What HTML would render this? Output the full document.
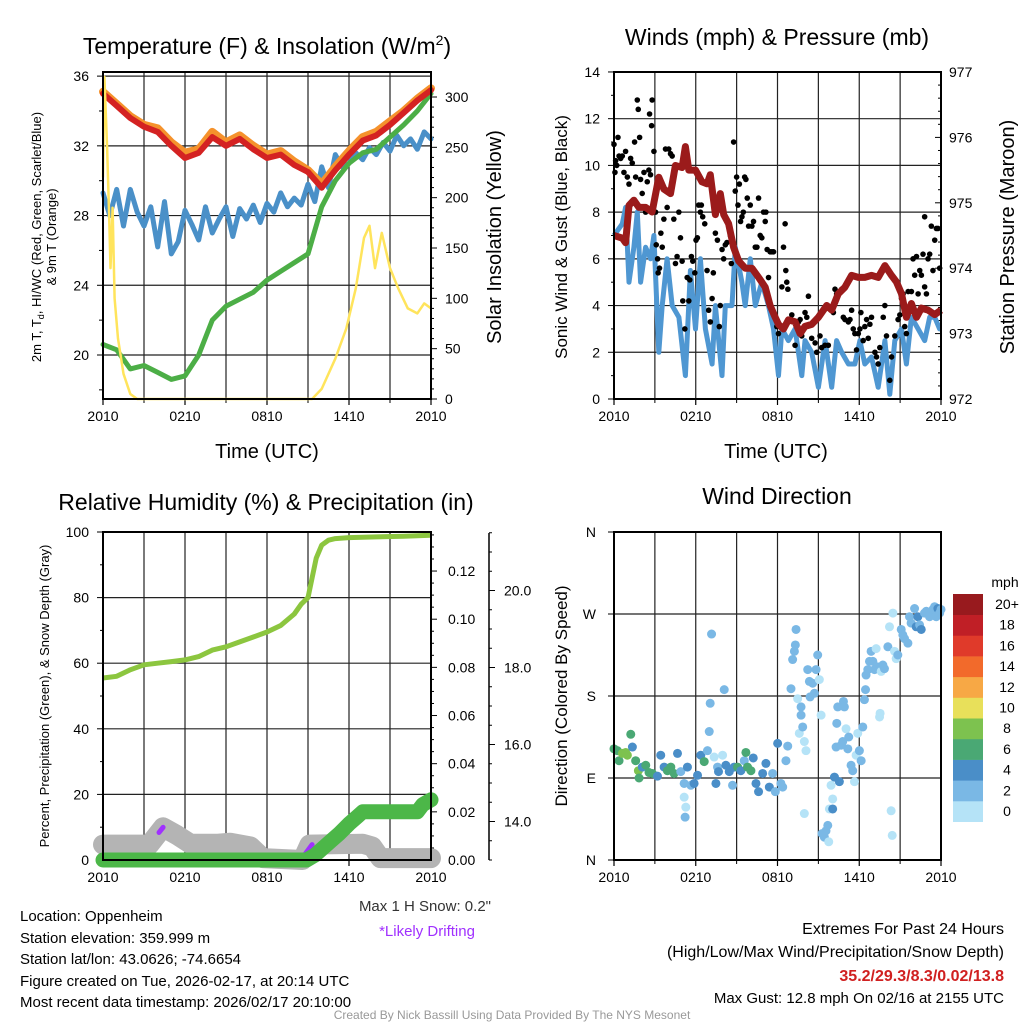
<!DOCTYPE html>
<html><head><meta charset="utf-8">
<style>
html,body{margin:0;padding:0;background:#fff;}
body{width:1024px;height:1024px;overflow:hidden;font-family:"Liberation Sans",sans-serif;}
svg text{font-family:"Liberation Sans",sans-serif;}
</style></head>
<body>
<svg id="c" width="1024" height="1024" viewBox="0 0 1024 1024" xmlns="http://www.w3.org/2000/svg">
<text x="267" y="54" font-size="23" text-anchor="middle">Temperature (F) &amp; Insolation (W/m<tspan font-size="14" dy="-9">2</tspan><tspan dy="9">)</tspan></text>
<text x="777" y="45" font-size="23" text-anchor="middle">Winds (mph) &amp; Pressure (mb)</text>
<text x="266" y="510" font-size="23" text-anchor="middle">Relative Humidity (%) &amp; Precipitation (in)</text>
<text x="777" y="504" font-size="23" text-anchor="middle">Wind Direction</text>
<text x="267" y="458" font-size="20" text-anchor="middle">Time (UTC)</text>
<text x="776" y="458" font-size="20" text-anchor="middle">Time (UTC)</text>
<text transform="translate(41,237) rotate(-90)" font-size="13" text-anchor="middle">2m T, T<tspan font-size="9" dy="3">d</tspan><tspan dy="-3">, HI/WC (Red, Green, Scarlet/Blue)</tspan></text>
<text transform="translate(56,237) rotate(-90)" font-size="13" text-anchor="middle">&amp; 9m T (Orange)</text>
<text transform="translate(501,237) rotate(-90)" font-size="20" text-anchor="middle">Solar Insolation (Yellow)</text>
<text transform="translate(567,237) rotate(-90)" font-size="17" text-anchor="middle">Sonic Wind &amp; Gust (Blue, Black)</text>
<text transform="translate(1014,237) rotate(-90)" font-size="20" text-anchor="middle">Station Pressure (Maroon)</text>
<text transform="translate(49,696) rotate(-90)" font-size="13" text-anchor="middle">Percent, Precipitation (Green), &amp; Snow Depth (Gray)</text>
<text transform="translate(567,696) rotate(-90)" font-size="17" text-anchor="middle">Direction (Colored By Speed)</text>
<g font-size="15">
<text x="20" y="921">Location: Oppenheim</text>
<text x="20" y="943">Station elevation: 359.999 m</text>
<text x="20" y="964">Station lat/lon: 43.0626; -74.6654</text>
<text x="20" y="986">Figure created on Tue, 2026-02-17, at 20:14 UTC</text>
<text x="20" y="1007">Most recent data timestamp: 2026/02/17 20:10:00</text>
</g>
<text x="491" y="911" font-size="15" text-anchor="end" fill="#333">Max 1 H Snow: 0.2"</text>
<text x="427" y="936" font-size="15" text-anchor="middle" fill="#a030ff">*Likely Drifting</text>
<text x="1004" y="934" font-size="16" text-anchor="end">Extremes For Past 24 Hours</text>
<text x="1004" y="957" font-size="16" text-anchor="end">(High/Low/Max Wind/Precipitation/Snow Depth)</text>
<text x="1004" y="981" font-size="16" font-weight="bold" text-anchor="end" fill="#d02020">35.2/29.3/8.3/0.02/13.8</text>
<text x="1004" y="1003" font-size="15" text-anchor="end">Max Gust: 12.8 mph On 02/16 at 2155 UTC</text>
<text x="512" y="1019" font-size="12" text-anchor="middle" fill="#999">Created By Nick Bassill Using Data Provided By The NYS Mesonet</text>
</svg>
<script>
// ---------- data ----------
const timeTickLabels = ["2010","0210","0810","1410","2010"];
const timeTickHours = [0,6,12,18,24];
const tempTicks = [20,24,28,32,36];
const insolTicks = [0,50,100,150,200,250,300];
const hourly = [0,1,2,3,4,5,6,7,8,9,10,11,12,13,14,15,16,17,18,19,20,21,22,23,24];
const temp2m = [35.0,34.3,33.6,33.1,32.8,32.0,31.3,31.6,32.5,32.0,32.4,31.8,31.3,31.5,30.9,30.5,29.6,30.6,31.5,32.3,32.6,33.2,33.9,34.6,35.2];
const temp9m = [35.1,34.4,33.7,33.2,33.0,32.2,31.6,31.8,32.8,32.2,32.6,32.0,31.5,31.7,31.1,30.6,29.8,30.8,31.7,32.5,32.8,33.4,34.0,34.7,35.3];
const dewpoint = [20.6,20.3,19.2,19.4,19.0,18.6,18.8,20.0,22.0,22.8,23.2,23.6,24.3,24.8,25.3,25.8,28.5,30.0,31.0,31.6,31.8,32.5,33.2,34.0,35.0];
const halfHours = [0,0.5,1,1.5,2,2.5,3,3.5,4,4.5,5,5.5,6,6.5,7,7.5,8,8.5,9,9.5,10,10.5,11,11.5,12,12.5,13,13.5,14,14.5,15,15.5,16,16.5,17,17.5,18,18.5,19,19.5,20,20.5,21,21.5,22,22.5,23,23.5,24];
const windChill = [29.3,28.0,29.5,27.4,29.5,28.2,27.4,28.5,26.2,28.8,25.8,26.5,28.3,27.5,26.6,28.5,27.0,27.8,28.5,26.8,28.4,27.8,28.6,27.6,28.7,28.2,29.3,28.5,29.0,28.6,29.8,28.8,30.8,29.6,31.5,30.8,31.0,31.6,31.2,31.9,31.5,32.2,31.7,32.6,32.0,32.4,31.8,32.8,32.4];
const insolHours = [0,0.1,0.3,0.45,0.55,0.7,0.85,1.1,1.5,2.0,2.5,15.3,16,17,17.8,18.5,19.1,19.5,19.9,20.4,21,21.6,22.3,23,23.5,24];
const insolVals = [220,320,250,180,130,190,100,60,25,5,0,0,10,40,70,110,160,172,130,165,130,110,90,85,95,90];

const windTicks = [0,2,4,6,8,10,12,14];
const pressTicks = [972,973,974,975,976,977];
const windHours = [0,0.61,0.85,1.1,1.46,1.71,1.95,2.32,2.68,2.93,3.29,3.54,3.9,4.27,4.76,5.24,5.61,5.98,6.34,6.71,7.2,7.44,7.93,8.17,8.66,8.9,9.39,9.63,10,10.37,10.85,11.34,11.71,12.07,12.32,12.8,13.29,13.78,14.02,14.51,15,15.49,15.98,16.34,16.71,17.2,17.68,18.05,18.41,18.9,19.39,19.88,20.24,20.61,21.1,21.46,21.83,22.32,22.8,23.17,23.54,23.9,24];
const windSpeed = [7,7.5,8.2,5,6.5,8,5,6.5,6,7,2,4,6,4,3.5,1,5.5,3,6,3,1.5,4,1,4,4,6.5,5,4,6,4,5,4,3,1,3,2.5,3,1,2.5,2,0.5,2.5,0.5,2.5,2,1.5,1.5,2.5,1.5,1.8,0.5,2.5,0.2,2.5,3,1.5,3.5,3,2.5,3.5,3.5,3,3];
const pressHours = [0,0.61,0.85,1.1,1.46,1.83,2.32,2.8,3.29,3.66,4.15,4.51,5,5.24,5.49,5.98,6.46,6.83,7.07,7.44,7.8,8.05,8.41,8.78,9.15,9.63,10.12,10.61,11.1,11.46,11.83,12.07,12.44,12.8,13.29,13.66,14.02,14.51,15,15.61,15.98,16.46,16.95,17.44,17.93,18.41,18.9,19.39,19.88,20.37,20.73,21.1,21.46,21.83,22.2,22.56,23.05,23.54,24];
const pressure = [974.50,974.46,974.39,974.96,975.04,974.93,974.93,974.86,975.39,975.21,975.14,975.57,975.54,975.86,975.50,975.50,975.32,975.29,975.43,974.82,975.14,974.82,974.68,974.32,974.11,974.0,974.0,973.86,973.71,973.43,973.25,973.14,973.07,973.21,973.18,973.0,973.11,973.14,973.25,973.43,973.36,973.61,973.71,973.89,973.86,973.86,973.89,973.86,974.04,973.89,973.79,973.61,973.25,973.46,973.25,973.39,973.36,973.29,973.36];
const gustHours = [0,0.07,0.12,0.2,0.29,0.37,0.49,0.61,0.73,0.85,0.98,1.1,1.22,1.34,1.51,1.59,1.71,1.78,1.88,1.95,2.07,2.2,2.32,2.44,2.56,2.61,2.68,2.76,2.8,2.93,3.05,3.1,3.2,3.24,3.34,3.44,3.54,3.66,3.78,3.9,4.02,4.15,4.27,4.39,4.51,4.63,4.76,4.88,5,5.05,5.2,5.37,5.49,5.56,5.68,5.78,5.93,6.02,6.12,6.22,6.34,6.41,6.51,6.66,6.83,6.95,7.07,7.2,7.29,7.44,7.59,7.73,7.8,7.93,8.05,8.17,8.29,8.54,8.61,8.78,8.9,9,9.1,9.2,9.29,9.39,9.49,9.59,9.68,9.78,9.88,10,10.12,10.24,10.37,10.49,10.61,10.73,10.85,10.98,11.1,11.15,11.24,11.34,11.46,11.59,11.71,11.83,11.95,12.07,12.32,12.44,12.56,12.61,12.68,12.76,13.05,13.29,13.54,13.66,13.78,14.02,14.15,14.27,14.51,14.76,14.88,15.12,15.24,15.49,15.73,15.98,16.1,16.22,16.34,16.46,16.71,16.83,16.95,17.07,17.2,17.32,17.44,17.56,17.68,17.8,17.93,18.05,18.12,18.29,18.41,18.54,18.66,18.78,18.9,19.15,19.27,19.39,19.51,19.76,19.88,20,20.24,20.37,20.61,20.85,20.98,21.1,21.22,21.34,21.46,21.59,21.83,21.95,22.07,22.2,22.32,22.44,22.56,22.68,22.8,22.93,23.05,23.17,23.29,23.41,23.54,23.66,23.78,23.9,22.8];
const gustSpeed = [10.9,9.7,10.2,10,11.2,10.4,10.3,10.4,9.7,10.6,9.5,9.2,10.3,10.1,11,9.5,12.8,12.4,11.2,9.4,8.8,9.7,8,9.3,9.8,12.2,9.6,11.7,12.8,10.6,8,6.6,6,5.4,5.6,7.1,6.5,7.7,10.7,8.2,10.7,10.5,10.4,7.7,5.8,6.1,8,6.9,5.9,4.2,3,5.2,4.2,5.1,6.1,5.9,5.4,6.8,6.9,8.3,8,8.3,7.8,7.5,5.5,3.8,3.3,4.3,5.4,7.1,6.8,3.1,4,6.4,6,6.6,6.7,7,5.8,11,8.9,9.5,8.3,9.2,7.6,7.8,8,9.5,9.4,8.6,7.4,8.3,7.4,7.6,6.5,6.5,8.6,7,6.9,8,7.6,8,6.4,5.2,6.3,6.3,6.3,3.6,3.1,2.8,4.8,6.5,7.5,5.5,5,4.7,3.6,2.3,3.3,3.4,2.7,3.7,3.5,4.4,2.6,2.4,2,2.7,2.2,2.3,2.3,3.9,3.7,4.7,4.5,4.5,4.7,3.5,3.4,4.9,3.3,3.4,3.8,3,2.8,2.1,2.8,3,3.7,2.5,3.1,3.4,2.6,3.2,3.5,2,1.8,1.5,2.2,3.5,4,2.7,0.8,1.8,2.7,3.4,3.6,4.3,4.5,3.1,2.8,4.6,4.6,6,5.3,6.1,4.5,5.5,5.3,6.2,4.8,4.5,6,6.2,7.4,5.5,6.8,7.3,7.3,5.6,7.8];

const rhTicks = [0,20,40,60,80,100];
const precipTicks = [0,0.02,0.04,0.06,0.08,0.10,0.12];
const precipTickLabels = ["0.00","0.02","0.04","0.06","0.08","0.10","0.12"];
const snowTicks = [14,16,18,20];
const snowTickLabels = ["14.0","16.0","18.0","20.0"];
const rhHours = [0,1,2,3,4,5,6,7,8,9,10,11,12,13,14,14.5,15,15.3,15.6,16,16.5,17,18,20,22,24];
const rhVals = [55.5,56,58,59.5,60,60.5,61,62,64,65,66.5,68,69.5,71.5,75,78,80,86,92,96,97.5,98,98.3,98.5,98.7,99];
const precipHours = [0,14.9,15.5,16.1,16.7,17.3,18,18.6,19,23,23.4,24];
const precipVals = [0,0,0.002,0.005,0.008,0.011,0.015,0.018,0.020,0.020,0.023,0.025];
const snowHours = [0,3.4,4.4,5.4,6.4,8.3,9.3,10.8,11.7,14.6,15.1,19.0,19.7,20.3,24];
const snowVals = [13.4,13.4,13.85,13.65,13.42,13.42,13.45,13.35,13.05,13.0,13.4,13.42,13.35,13.05,13.05];
const driftHours1 = [4.1,4.4];
const driftHours2 = [14.8,15.3];

const dirTickLabels = ["N","E","S","W","N"];
const dirTicks = [0,90,180,270,360];
const dirHours = [0,0.25,0.37,0.61,0.86,0.98,1.23,1.35,1.59,1.79,1.84,2.08,2.33,2.57,2.82,3.19,3.43,3.68,3.92,4.17,4.41,4.66,4.9,5.15,5.15,5.27,5.22,5.39,5.64,5.88,6.13,6.37,6.62,6.86,6.99,7.06,7.16,7.35,7.48,7.6,7.67,7.97,8.09,8.21,8.46,8.7,8.82,9.07,9.31,9.56,9.68,9.8,10.05,10.22,10.42,10.61,10.91,11.15,11.4,11.64,11.84,12.01,12.25,12.38,12.62,12.75,12.99,13.11,13.24,13.31,13.36,13.48,13.6,13.73,13.73,13.85,13.97,13.97,14.09,14.22,14.34,14.39,14.58,14.71,14.83,14.95,15.07,15.2,15.27,15.44,15.56,15.69,15.76,15.81,15.93,16.05,16.05,16.18,16.3,16.35,16.42,16.54,16.67,16.79,16.84,16.91,17.03,17.16,17.23,17.4,17.52,17.65,17.77,17.89,18.01,18.14,18.26,18.38,18.46,18.5,18.63,18.75,18.87,19.0,19.12,19.24,19.36,19.49,19.53,19.61,19.73,19.85,20.1,20.22,20.34,20.47,20.42,20.59,20.71,20.83,21.08,21.2,21.32,21.57,21.69,21.81,22.06,22.18,22.3,22.43,22.55,22.79,22.92,23.16,23.41,23.53,23.65,23.77,23.9,24];
const dirDeg = [122,120,109,117,118,115,138,124,109,98,90,102,104,96,95,92,115,102,98,102,95,117,97,84,69,58,47,102,82,84,93,115,108,120,141,172,248,113,84,102,97,115,187,104,97,82,102,102,98,109,118,102,98,112,84,75,95,106,80,95,75,128,84,80,109,125,188,220,229,236,253,177,139,168,159,146,130,51,120,209,196,179,194,183,209,225,198,159,29,25,32,38,20,56,82,67,56,91,124,150,168,86,126,130,174,168,144,122,135,104,98,86,115,139,120,109,146,176,187,203,209,218,229,218,209,232,212,157,161,207,214,210,234,256,54,271,27,229,221,225,253,247,243,238,267,260,276,256,267,258,253,271,273,267,275,278,267,276,271,275];
const dirSpeed = [7,7,7,9,9,9,7,5,7,9,7,5,7,7,7,5,5,5,7,7,7,5,3,3,1,1,3,5,3,5,5,5,7,3,3,3,3,1,5,3,5,1,3,5,5,3,5,7,5,3,7,7,7,5,5,5,5,5,5,3,3,5,3,3,3,3,3,3,3,3,3,1,1,3,3,3,1,1,1,3,3,3,3,3,3,3,1,1,3,3,3,3,1,1,1,1,5,5,3,3,3,5,3,3,3,3,1,3,3,3,3,1,1,1,3,3,3,3,3,3,3,3,3,3,3,1,3,1,1,1,3,3,3,1,1,1,1,1,1,3,3,3,3,3,3,3,3,5,5,3,5,3,3,3,3,3,3,5,3];
const speedBins = ["0","2","4","6","8","10","12","14","16","18","20+"];
const binColors = ["#b5e3f7","#7ab8e5","#4a8ec8","#4aa874","#7dc24f","#e8e05a","#f7a845","#f26a2b","#e03a2a","#c01f26","#981a1e"];

// ---------- helpers ----------
const svg = document.getElementById('c');
const NS = 'http://www.w3.org/2000/svg';
function mk(tag, attrs){ const e=document.createElementNS(NS,tag); for(const k in attrs) e.setAttribute(k,attrs[k]); svg.appendChild(e); return e; }
function lineP(xs, ys, fx, fy){ return xs.map((v,i)=>(i?'L':'M')+fx(v).toFixed(1)+','+fy(ys[i]).toFixed(1)).join(''); }

function frame(x0,x1,y0,y1,prefix){
  for(let h=3;h<24;h+=3){
    const xg=x0+(x1-x0)*h/24;
    const g=mk('line',{x1:xg,x2:xg,y1:y0,y2:y1,stroke:'#222','stroke-width':1.2});
    
    
  }
  timeTickHours.forEach((h,i)=>{
    const xt=x0+(x1-x0)*h/24;
    const t=mk('line',{x1:xt,x2:xt,y1:y1,y2:y1+6,stroke:'#000','stroke-width':1.2});
    
    
    const l=mk('text',{x:xt,y:y1+22,'font-size':14,'text-anchor':'middle'});
    l.textContent=timeTickLabels[i];
    
    
  });
  for(let h=3;h<24;h+=3){ if(h%6){ const xt=x0+(x1-x0)*h/24; mk('line',{x1:xt,x2:xt,y1:y1,y2:y1+4,stroke:'#000'}); } }
}
function border(x0,x1,y0,y1,name){
  const r=mk('rect',{x:x0,y:y0,width:x1-x0,height:y1-y0,fill:'none',stroke:'#000','stroke-width':2});
  
  
}

// ---------- Panel 1 ----------
(function(){
  const X0=103,X1=431,Y0=72,Y1=399;
  const x=h=>X0+(X1-X0)*h/24;
  const yT=t=>355-(t-20)*17.43;
  const yI=w=>399-w*1.0067;
  tempTicks.forEach(t=>{
    if(t<36){const g=mk('line',{x1:X0,x2:X1,y1:yT(t),y2:yT(t),stroke:'#222','stroke-width':1.2});
    
    }
    mk('line',{x1:X0-6,x2:X0,y1:yT(t),y2:yT(t),stroke:'#000'});
    const l=mk('text',{x:X0-14,y:yT(t)+5,'font-size':14,'text-anchor':'end'}); l.textContent=t;
    
    
  });
  mk('line',{x1:X0,x2:X1,y1:yT(36),y2:yT(36),stroke:'#222','stroke-width':1.2});
  for(let t=18;t<36;t+=4) mk('line',{x1:X0-4,x2:X0,y1:yT(t),y2:yT(t),stroke:'#000'});
  insolTicks.forEach(w=>{
    mk('line',{x1:X1,x2:X1+6,y1:yI(w),y2:yI(w),stroke:'#000'});
    const l=mk('text',{x:X1+14,y:yI(w)+5,'font-size':14}); l.textContent=w;
    
    
  });
  for(let w=10;w<320;w+=10){ if(w%50) mk('line',{x1:X1,x2:X1+3,y1:yI(w),y2:yI(w),stroke:'#000'}); }
  frame(X0,X1,Y0,Y1,'temp');
  let e;
  e=mk('path',{d:lineP(halfHours,windChill,x,yT),fill:'none',stroke:'#4a90c8','stroke-width':5,'stroke-linejoin':'round','stroke-linecap':'round'});
  
  
  e=mk('path',{d:lineP(hourly,dewpoint,x,yT),fill:'none',stroke:'#4cae46','stroke-width':5,'stroke-linejoin':'round','stroke-linecap':'round'});
  
  
  e=mk('path',{d:lineP(hourly,temp9m,x,yT),fill:'none',stroke:'#f5922c','stroke-width':8,'stroke-linejoin':'round','stroke-linecap':'round'});
  
  
  e=mk('path',{d:lineP(hourly,temp2m,x,yT),fill:'none',stroke:'#d42222','stroke-width':6,'stroke-linejoin':'round','stroke-linecap':'round'});
  
  
  e=mk('path',{d:lineP(insolHours,insolVals,x,yI),fill:'none',stroke:'#ffe45c','stroke-width':2.5,'stroke-linejoin':'round'});
  
  
  border(X0,X1,Y0,Y1,'temp-plot-border');
})();

// ---------- Panel 2 ----------
(function(){
  const X0=614,X1=941,Y0=72,Y1=399;
  const x=h=>X0+(X1-X0)*h/24;
  const yW=v=>Y1-v*23.36;
  const yP=p=>Y1-(p-972)*65.4;
  windTicks.forEach(v=>{
    if(v>0&&v<14){const g=mk('line',{x1:X0,x2:X1,y1:yW(v),y2:yW(v),stroke:'#222','stroke-width':1.2});
    
    }
    mk('line',{x1:X0-6,x2:X0,y1:yW(v),y2:yW(v),stroke:'#000'});
    if(v<14) mk('line',{x1:X0-3,x2:X0,y1:yW(v+1),y2:yW(v+1),stroke:'#000'});
    const l=mk('text',{x:X0-14,y:yW(v)+5,'font-size':14,'text-anchor':'end'}); l.textContent=v;
    
    
  });
  pressTicks.forEach(p=>{
    mk('line',{x1:X1-6,x2:X1,y1:yP(p),y2:yP(p),stroke:'#000'});
    const l=mk('text',{x:X1+8,y:yP(p)+5,'font-size':14}); l.textContent=p;
    
    
    for(let k=1;k<5&&p<977;k++) mk('line',{x1:X1-3,x2:X1,y1:yP(p+k*0.2),y2:yP(p+k*0.2),stroke:'#000'});
  });
  frame(X0,X1,Y0,Y1,'wind');
  let e;
  e=mk('path',{d:lineP(windHours,windSpeed,x,yW),fill:'none',stroke:'#4f97d2','stroke-width':5,'stroke-linejoin':'round'});
  
  
  gustHours.forEach((h,i)=>{
    const c=mk('circle',{cx:x(h),cy:yW(gustSpeed[i]),r:2.8,fill:'#000'});
    
    
  });
  e=mk('path',{d:lineP(pressHours,pressure,x,yP),fill:'none',stroke:'#9b1b1b','stroke-width':7,'stroke-linejoin':'round'});
  
  
  border(X0,X1,Y0,Y1,'wind-plot-border');
})();

// ---------- Panel 3 ----------
(function(){
  const X0=103,X1=431,Y0=532,Y1=860;
  const x=h=>X0+(X1-X0)*h/24;
  const yR=v=>Y1-v*3.28;
  const yPr=v=>Y1-v*2408;
  const yS=s=>Y1-(s-13)*38.5;
  rhTicks.forEach(v=>{
    if(v>0&&v<100){const g=mk('line',{x1:X0,x2:X1,y1:yR(v),y2:yR(v),stroke:'#222','stroke-width':1.2});
    
    }
    mk('line',{x1:X0-6,x2:X0,y1:yR(v),y2:yR(v),stroke:'#000'});
    if(v<100) mk('line',{x1:X0-3,x2:X0,y1:yR(v+10),y2:yR(v+10),stroke:'#000'});
    const l=mk('text',{x:X0-14,y:yR(v)+5,'font-size':14,'text-anchor':'end'}); l.textContent=v;
    
    
  });
  precipTicks.forEach((v,i)=>{
    mk('line',{x1:X1,x2:X1+6,y1:yPr(v),y2:yPr(v),stroke:'#000'});
    mk('line',{x1:X1,x2:X1+3,y1:yPr(v+0.005),y2:yPr(v+0.005),stroke:'#000'});
    mk('line',{x1:X1,x2:X1+3,y1:yPr(v+0.01),y2:yPr(v+0.01),stroke:'#000'});
    mk('line',{x1:X1,x2:X1+3,y1:yPr(v+0.015),y2:yPr(v+0.015),stroke:'#000'});
    const l=mk('text',{x:X1+17,y:yPr(v)+5,'font-size':14}); l.textContent=precipTickLabels[i];
    
    
  });
  const sa=mk('line',{x1:489,x2:489,y1:533,y2:860,stroke:'#000','stroke-width':1.5});
  
  
  for(let s=13;s<=21.5;s+=0.5) mk('line',{x1:489,x2:492,y1:yS(s),y2:yS(s),stroke:'#000'});
  snowTicks.forEach((s,i)=>{
    mk('line',{x1:489,x2:495,y1:yS(s),y2:yS(s),stroke:'#000'});
    const l=mk('text',{x:504,y:yS(s)+5,'font-size':14}); l.textContent=snowTickLabels[i];
    
    
  });
  frame(X0,X1,Y0,Y1,'rh');
  let e;
  e=mk('path',{d:lineP(snowHours,snowVals,x,yS),fill:'none',stroke:'#b4b4b4','stroke-width':20,'stroke-linejoin':'round','stroke-linecap':'round'});
  
  
  [driftHours1,driftHours2].forEach(hs=>{
    const ys=hs.map(h=>{let i=snowHours.findIndex(t=>t>=h);if(i<1)i=1;const t0=snowHours[i-1],t1=snowHours[i];return snowVals[i-1]+(snowVals[i]-snowVals[i-1])*(h-t0)/(t1-t0);});
    const d=mk('path',{d:lineP(hs,ys,x,yS),fill:'none',stroke:'#a030ff','stroke-width':5,'stroke-linecap':'round'});
    
    
  });
  e=mk('path',{d:lineP(precipHours,precipVals,x,yPr),fill:'none',stroke:'#4cb748','stroke-width':15,'stroke-linejoin':'round','stroke-linecap':'round'});
  
  
  e=mk('path',{d:lineP(rhHours,rhVals,x,yR),fill:'none',stroke:'#8cc63f','stroke-width':5,'stroke-linejoin':'round'});
  
  
  border(X0,X1,Y0,Y1,'rh-plot-border');
})();

// ---------- Panel 4 ----------
(function(){
  const X0=614,X1=941,Y0=532,Y1=860;
  const x=h=>X0+(X1-X0)*h/24;
  const yD=d=>Y1-d*0.9111;
  dirTicks.forEach((d,i)=>{
    if(d>0&&d<360){const g=mk('line',{x1:X0,x2:X1,y1:yD(d),y2:yD(d),stroke:'#222','stroke-width':1.2});
    
    }
    mk('line',{x1:X0-6,x2:X0,y1:yD(d),y2:yD(d),stroke:'#000'});
    const l=mk('text',{x:X0-18,y:yD(d)+5,'font-size':14,'text-anchor':'end'}); l.textContent=dirTickLabels[i];
    
    
  });
  frame(X0,X1,Y0,Y1,'direction');
  dirHours.forEach((h,i)=>{
    if(dirDeg[i]===undefined) return;
    const sp=(dirSpeed[i]===undefined)?3:dirSpeed[i];
    const bin=Math.min(10,Math.floor(sp/2));
    const c=mk('circle',{cx:x(h),cy:yD(dirDeg[i]),r:4.5,fill:binColors[bin]||'#7ab8e5'});
    
    
  });
  border(X0,X1,Y0,Y1,'direction-plot-border');
  const mph=mk('text',{x:1005,y:587,'font-size':14,'text-anchor':'middle'}); mph.textContent='mph';
  
  
  binColors.forEach((col,i)=>{
    const yy=594+(10-i)*20.7;
    const r=mk('rect',{x:953,y:yy,width:30,height:21,fill:col});
    
    
    const l=mk('text',{x:1007,y:yy+15,'font-size':14,'text-anchor':'middle'}); l.textContent=speedBins[i];
    
    
  });
})();
</script>
</body></html>
